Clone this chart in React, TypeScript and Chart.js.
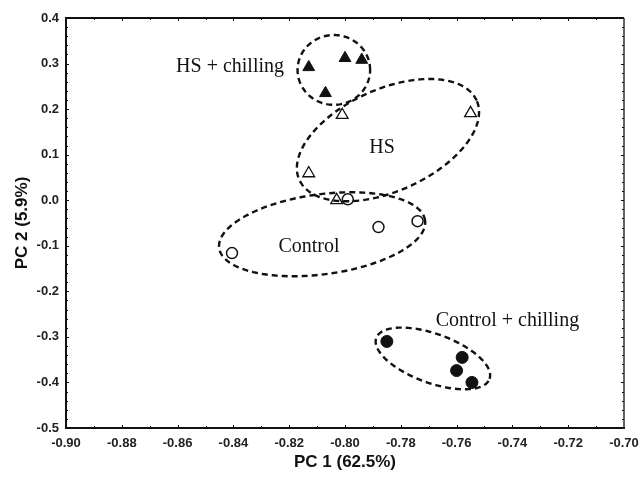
import React, { useEffect, useRef } from "react";
import { Chart, registerables } from "chart.js";

Chart.register(...registerables);

// ---- data (PC1, PC2 scores) ----
const hsChilling = [
  { x: -0.813, y: 0.292 },
  { x: -0.8, y: 0.312 },
  { x: -0.794, y: 0.308 },
  { x: -0.807, y: 0.235 },
];
const hs = [
  { x: -0.801, y: 0.187 },
  { x: -0.755, y: 0.191 },
  { x: -0.813, y: 0.059 },
  { x: -0.803, y: 0.0 },
];
const control = [
  { x: -0.799, y: 0.002 },
  { x: -0.788, y: -0.059 },
  { x: -0.774, y: -0.046 },
  { x: -0.8405, y: -0.116 },
];
const controlChilling = [
  { x: -0.785, y: -0.31 },
  { x: -0.758, y: -0.345 },
  { x: -0.76, y: -0.374 },
  { x: -0.7545, y: -0.4 },
];

// group ellipses in data units: center, end of one semi-axis, end of the conjugate semi-axis
const ellipseCenters = [
  [-0.804, 0.286],
  [-0.7846, 0.1319],
  [-0.8082, -0.0747],
  [-0.7685, -0.3473],
];
const ellipseMajorEnds = [
  [-0.791, 0.286],
  [-0.7528, 0.2187],
  [-0.7713, -0.0442],
  [-0.7482, -0.3923],
];
const ellipseMinorEnds = [
  [-0.804, 0.3626],
  [-0.792, 0.2343],
  [-0.8102, 0.0123],
  [-0.7655, -0.2967],
];

// group labels (text, anchor in data units: centre x, baseline y)
const groupLabels = ["HS + chilling", "HS", "Control", "Control + chilling"];
const groupLabelX = [-0.8412, -0.7867, -0.8129, -0.7418];
const groupLabelY = [0.2813, 0.1033, -0.1143, -0.2769];

// axes
const xMin = -0.9;
const xMax = -0.7;
const xStep = 0.02;
const xMinorStep = 0.01;
const yMin = -0.5;
const yMax = 0.4;
const yStep = 0.1;
const yMinorStep = 0.02;
const xTitle = "PC 1 (62.5%)";
const yTitle = "PC 2 (5.9%)";

const INK = "#111";

const overlayPlugin = {
  id: "overlay",
  afterDatasetsDraw(chart: any) {
    const { ctx, scales, chartArea } = chart;
    const xs = scales.x;
    const ys = scales.y;
    ctx.save();

    // dashed group ellipses
    ctx.setLineDash([6, 4]);
    ctx.lineWidth = 2.4;
    ctx.strokeStyle = INK;
    for (let k = 0; k < ellipseCenters.length; k++) {
      const cx = xs.getPixelForValue(ellipseCenters[k][0]);
      const cy = ys.getPixelForValue(ellipseCenters[k][1]);
      const ax = xs.getPixelForValue(ellipseMajorEnds[k][0]) - cx;
      const ay = ys.getPixelForValue(ellipseMajorEnds[k][1]) - cy;
      const bx = xs.getPixelForValue(ellipseMinorEnds[k][0]) - cx;
      const by = ys.getPixelForValue(ellipseMinorEnds[k][1]) - cy;
      ctx.beginPath();
      const N = 160;
      for (let i = 0; i <= N; i++) {
        const t = (2 * Math.PI * i) / N;
        const px = cx + ax * Math.cos(t) + bx * Math.sin(t);
        const py = cy + ay * Math.cos(t) + by * Math.sin(t);
        if (i === 0) ctx.moveTo(px, py);
        else ctx.lineTo(px, py);
      }
      ctx.closePath();
      ctx.stroke();
    }
    ctx.setLineDash([]);

    // group labels
    ctx.fillStyle = INK;
    ctx.font = '20px "Liberation Serif", "Times New Roman", serif';
    ctx.textAlign = "center";
    ctx.textBaseline = "alphabetic";
    for (let k = 0; k < groupLabels.length; k++) {
      ctx.fillText(
        groupLabels[k],
        xs.getPixelForValue(groupLabelX[k]),
        ys.getPixelForValue(groupLabelY[k])
      );
    }

    // frame top & right
    const { left, right, top, bottom } = chartArea;
    ctx.strokeStyle = INK;
    ctx.lineWidth = 2;
    ctx.beginPath();
    ctx.moveTo(left - 1, top);
    ctx.lineTo(right, top);
    ctx.stroke();
    ctx.lineWidth = 1.5;
    ctx.strokeStyle = "#333";
    ctx.beginPath();
    ctx.moveTo(right, top);
    ctx.lineTo(right, bottom);
    ctx.stroke();

    // inward tick marks
    ctx.strokeStyle = INK;
    ctx.lineWidth = 1;
    const nx = Math.round((xMax - xMin) / xMinorStep);
    for (let i = 1; i < nx; i++) {
      const v = xMin + i * xMinorStep;
      const major = i % Math.round(xStep / xMinorStep) === 0;
      const len = major ? 3 : 2;
      const px = Math.round(xs.getPixelForValue(v)) + 0.5;
      ctx.beginPath();
      ctx.moveTo(px, bottom);
      ctx.lineTo(px, bottom - len);
      ctx.moveTo(px, top);
      ctx.lineTo(px, top + len);
      ctx.stroke();
    }
    const ny = Math.round((yMax - yMin) / yMinorStep);
    for (let i = 1; i < ny; i++) {
      const v = yMin + i * yMinorStep;
      const major = Math.abs(v / yStep - Math.round(v / yStep)) < 1e-6;
      const len = major ? 3 : 2;
      const py = Math.round(ys.getPixelForValue(v)) + 0.5;
      ctx.beginPath();
      ctx.moveTo(left, py);
      ctx.lineTo(left + len, py);
      ctx.moveTo(right, py);
      ctx.lineTo(right - len, py);
      ctx.stroke();
    }
    ctx.restore();
  },
};

export default function App() {
  const canvasRef = useRef<HTMLCanvasElement | null>(null);

  useEffect(() => {
    const canvas = canvasRef.current;
    if (!canvas) return;
    const tickFont = { family: '"Liberation Sans", Arial, sans-serif', size: 13, weight: "bold" as const };
    const titleFont = { family: '"Liberation Sans", Arial, sans-serif', size: 17, weight: "bold" as const };
    const chart = new Chart(canvas, {
      type: "scatter",
      data: {
        datasets: [
          {
            label: "HS + chilling",
            data: hsChilling,
            pointStyle: "triangle",
            pointRadius: 6.8,
            backgroundColor: INK,
            borderColor: INK,
            borderWidth: 1,
          },
          {
            label: "HS",
            data: hs,
            pointStyle: "triangle",
            pointRadius: 6.8,
            backgroundColor: "rgba(0,0,0,0)",
            borderColor: INK,
            borderWidth: 1.3,
          },
          {
            label: "Control",
            data: control,
            pointStyle: "circle",
            pointRadius: 5.5,
            backgroundColor: "rgba(0,0,0,0)",
            borderColor: INK,
            borderWidth: 1.5,
          },
          {
            label: "Control + chilling",
            data: controlChilling,
            pointStyle: "circle",
            pointRadius: 6,
            backgroundColor: INK,
            borderColor: INK,
            borderWidth: 1,
          },
        ],
      },
      options: {
        animation: false,
        responsive: false,
        events: [],
        layout: { padding: { top: 18, right: 17, left: 0, bottom: 0 } },
        plugins: {
          legend: { display: false },
          tooltip: { enabled: false },
        },
        scales: {
          x: {
            type: "linear",
            min: xMin,
            max: xMax,
            ticks: {
              stepSize: xStep,
              autoSkip: false,
              maxRotation: 0,
              padding: 8,
              color: "#222",
              font: tickFont,
              callback: (v: any) => {
                const n = Number(v);
                return (Math.abs(n) < 1e-9 ? 0 : n).toFixed(2);
              },
            },
            grid: { display: false, drawTicks: false },
            border: { display: true, color: INK, width: 2 },
            title: {
              display: true,
              text: xTitle,
              color: INK,
              font: titleFont,
              padding: { top: 0, bottom: 8 },
            },
            afterFit: (s: any) => {
              s.height = 53;
              s.paddingLeft = 0;
              s.paddingRight = 0;
            },
          },
          y: {
            type: "linear",
            min: yMin,
            max: yMax,
            ticks: {
              stepSize: yStep,
              autoSkip: false,
              padding: 7,
              color: "#222",
              font: tickFont,
              callback: (v: any) => {
                const n = Number(v);
                return (Math.abs(n) < 1e-9 ? 0 : n).toFixed(1);
              },
            },
            grid: { display: false, drawTicks: false },
            border: { display: true, color: INK, width: 2 },
            title: {
              display: true,
              text: yTitle,
              color: INK,
              font: titleFont,
              padding: { top: 12, bottom: 0 },
            },
            afterFit: (s: any) => {
              s.width = 66;
              s.paddingTop = 0;
              s.paddingBottom = 0;
            },
          },
        },
      },
      plugins: [overlayPlugin],
    });
    return () => {
      chart.destroy();
    };
  }, []);

  return (
    <div style={{ position: "fixed", left: 0, top: 0, width: 641, height: 481, background: "#fff" }}>
      <canvas ref={canvasRef} width={641} height={481} style={{ display: "block" }} />
    </div>
  );
}
